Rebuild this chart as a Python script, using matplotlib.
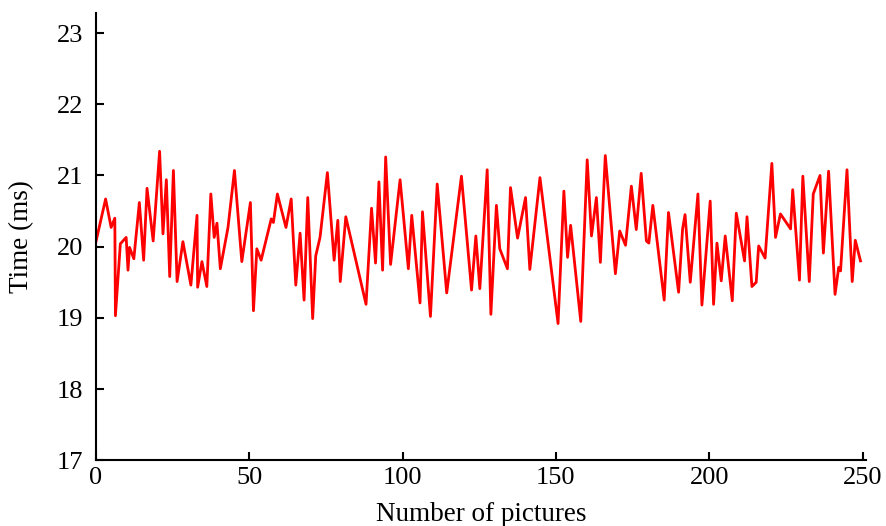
import matplotlib
matplotlib.use("Agg")
import matplotlib.pyplot as plt

# values
picture_no = [0, 3.2, 5.0, 6.2, 6.4, 8.0, 9.9, 10.5, 11.0, 12.4,
              14.2, 15.6, 16.7, 18.7, 20.8, 21.9, 23.0, 24.1, 25.3, 26.5,
              28.4, 31.0, 33.0, 33.2, 34.6, 36.2, 37.5, 38.6, 39.5, 40.6,
              43.1, 45.2, 47.6, 50.4, 51.4, 52.5, 53.9, 57.2, 57.9, 59.2,
              62.0, 63.7, 65.2, 66.6, 67.9, 69.1, 70.7, 71.7, 73.1, 75.5,
              77.7, 78.9, 79.7, 81.5, 88.1, 89.9, 91.2, 92.3, 93.5, 94.5,
              96.1, 99.2, 101.9, 103.0, 105.7, 106.5, 109.1, 111.3, 114.4, 119.2,
              122.5, 123.9, 125.2, 127.6, 128.8, 130.6, 131.7, 134.2, 135.2, 137.5,
              140.1, 141.5, 144.8, 150.7, 152.6, 153.8, 154.8, 158.1, 160.2, 161.6,
              163.2, 164.5, 166.1, 169.4, 170.8, 172.7, 174.6, 176.2, 177.8, 179.5,
              180.3, 181.6, 185.3, 186.7, 190.0, 191.3, 192.1, 193.8, 196.3, 197.6,
              200.3, 201.4, 202.5, 203.9, 205.2, 207.5, 208.8, 211.5, 212.3, 213.9,
              215.3, 216.1, 218.2, 220.4, 221.6, 223.2, 226.5, 227.2, 229.4, 230.5,
              232.6, 233.9, 236.1, 237.2, 238.9, 241.0, 242.2, 242.8, 244.9, 246.6,
              247.6, 249.3]
time_ms = [20.06, 20.67, 20.27, 20.40, 19.03, 20.04, 20.13, 19.67, 19.99, 19.83,
           20.62, 19.81, 20.82, 20.08, 21.34, 20.18, 20.94, 19.58, 21.07, 19.51,
           20.07, 19.46, 20.44, 19.43, 19.79, 19.44, 20.74, 20.13, 20.33, 19.69,
           20.27, 21.07, 19.79, 20.62, 19.10, 19.97, 19.81, 20.39, 20.34, 20.74,
           20.27, 20.67, 19.46, 20.19, 19.25, 20.69, 18.99, 19.87, 20.13, 21.04,
           19.81, 20.37, 19.51, 20.42, 19.19, 20.54, 19.77, 20.91, 19.67, 21.26,
           19.75, 20.94, 19.69, 20.44, 19.21, 20.49, 19.02, 20.88, 19.35, 20.99,
           19.39, 20.15, 19.41, 21.08, 19.05, 20.58, 19.97, 19.69, 20.83, 20.12,
           20.69, 19.68, 20.97, 18.92, 20.78, 19.85, 20.30, 18.95, 21.22, 20.15,
           20.69, 19.78, 21.28, 19.62, 20.22, 20.02, 20.85, 20.24, 21.03, 20.08,
           20.05, 20.58, 19.25, 20.48, 19.36, 20.25, 20.45, 19.50, 20.74, 19.18,
           20.64, 19.19, 20.05, 19.52, 20.15, 19.24, 20.47, 19.80, 20.42, 19.44,
           19.50, 20.01, 19.84, 21.17, 20.13, 20.46, 20.25, 20.80, 19.53, 20.99,
           19.51, 20.74, 21.00, 19.91, 21.06, 19.33, 19.71, 19.66, 21.08, 19.51,
           20.09, 19.80]

plt.rcParams['font.family'] = ['Liberation Serif', 'DejaVu Serif']
plt.rcParams['font.size'] = 19

fig = plt.figure(figsize=(8.87, 5.26), dpi=100)
ax = fig.add_axes([0.108, 0.125, 0.868, 0.85])

ax.plot(picture_no, time_ms, color='#ff0000', linewidth=2.0)

ax.set_xlim(0, 251)
ax.set_ylim(17, 23.28)
ax.set_xticks([0, 50, 100, 150, 200, 250])
ax.set_yticks([17, 18, 19, 20, 21, 22, 23])
ax.set_xlabel("Number of pictures", fontsize=19.5, labelpad=9)
ax.set_ylabel("Time (ms)", fontsize=19.5)
ax.yaxis.set_label_coords(-0.08, 0.5)

for side in ['top', 'right']:
    ax.spines[side].set_visible(False)
for side in ['left', 'bottom']:
    ax.spines[side].set_linewidth(1.5)
ax.tick_params(direction='in', length=6, width=1.5)
ax.tick_params(axis='y', pad=9)
ax.tick_params(axis='x', pad=5)

fig.savefig("out.png", dpi=100)
